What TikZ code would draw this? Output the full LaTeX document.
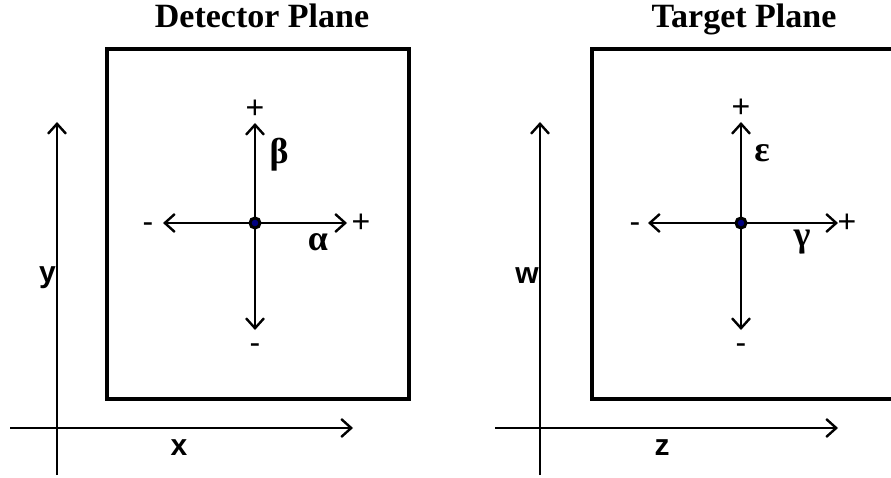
\documentclass[tikz,border=0pt]{standalone}
\usepackage{fontspec}
\setmainfont{Liberation Serif}
\setsansfont{Liberation Sans}
\usetikzlibrary{arrows.meta}
\tikzset{
  barb/.tip={Straight Barb[length=10pt,width=18pt]},
  plane/.style={line width=3.8pt},
  axis/.style={line width=2.4pt,-barb},
  vec/.style={line width=2.4pt,barb-barb},
  sign/.style={font=\sffamily\fontsize{32}{36}\selectfont,inner sep=0pt,anchor=base},
  axlbl/.style={font=\sffamily\bfseries\fontsize{30}{34}\selectfont,inner sep=0pt},
  greek/.style={font=\bfseries\fontsize{36}{40}\selectfont,inner sep=0pt},
  ttl/.style={font=\bfseries\fontsize{34}{40}\selectfont,inner sep=0pt,anchor=base},
  dot/.style={circle,draw=black,line width=3pt,fill=blue!50!black,inner sep=0pt,minimum size=10pt}
}
\begin{document}
\begin{tikzpicture}[x=1pt,y=-1pt]
  \useasboundingbox (0,0) rectangle (891,478);
  \clip (0,0) rectangle (891,478);
  % detector plane
  \node[ttl] (dtitle) at (262,28) {Detector Plane};
  \draw[plane] (107,49) rectangle (409,399);
  \coordinate (yS) at (57,475);
  \coordinate (yN) at (57,122);
  \coordinate (xW) at (10,428);
  \coordinate (xE) at (353,428);
  \draw[axis] (yS) -- (yN);
  \draw[axis] (xW) -- (xE);
  \node[axlbl,anchor=east] (ylbl) at (56,278) {y};
  \node[axlbl] (xlbl) at (179,448) {x};
  \coordinate (dN) at (255,123);
  \coordinate (dS) at (255,330);
  \coordinate (dW) at (163,223);
  \coordinate (dE) at (347,223);
  \draw[vec] (dS) -- (dN);
  \draw[vec] (dW) -- (dE);
  \node[dot] (dc) at (255,223) {};
  \node[sign] (dplus1) at (255,119) {+};
  \node[sign] (dminus1) at (255,353) {-};
  \node[sign] (dminus2) at (148,233) {-};
  \node[sign] (dplus2) at (361,233) {+};
  \node[greek] (beta) at (279,155) {β};
  \node[greek] (alpha) at (318,242) {α};
  % target plane
  \node[ttl] (ttitle) at (744,28) {Target Plane};
  \draw[plane] (592,49) rectangle (900,399);
  \coordinate (wS) at (540,475);
  \coordinate (wN) at (540,122);
  \coordinate (zW) at (495,428);
  \coordinate (zE) at (838,428);
  \draw[axis] (wS) -- (wN);
  \draw[axis] (zW) -- (zE);
  \node[axlbl,anchor=east] (wlbl) at (539,276) {w};
  \node[axlbl] (zlbl) at (662,448) {z};
  \coordinate (tN) at (741,122);
  \coordinate (tS) at (741,330);
  \coordinate (tW) at (648,223);
  \coordinate (tE) at (838,223);
  \draw[vec] (tS) -- (tN);
  \draw[vec] (tW) -- (tE);
  \node[dot] (tc) at (741,223) {};
  \node[sign] (tplus1) at (741,118) {+};
  \node[sign] (tminus1) at (741,353) {-};
  \node[sign] (tminus2) at (635,233) {-};
  \node[sign] (tplus2) at (847,233) {+};
  \node[greek] (epsilon) at (762,153) {ε};
  \node[greek] (gamma) at (802,242) {γ};
\end{tikzpicture}
\end{document}
